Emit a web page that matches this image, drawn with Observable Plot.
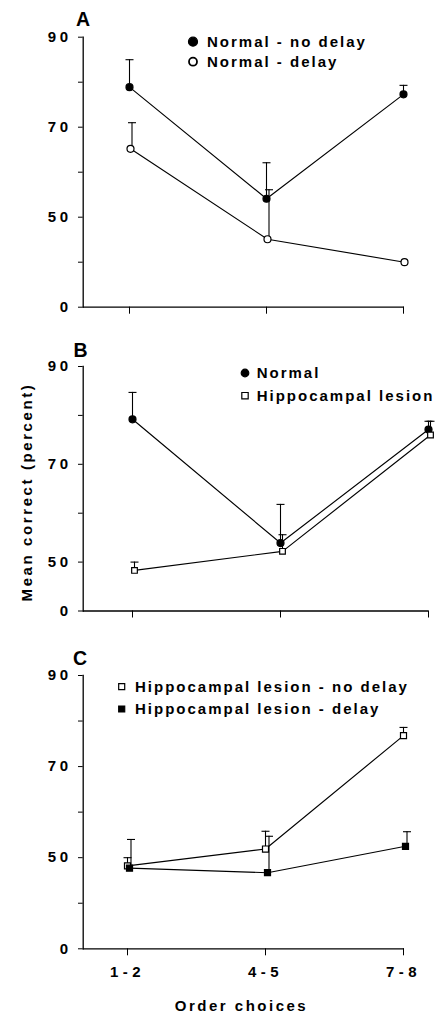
<!DOCTYPE html>
<html>
<head>
<meta charset="utf-8">
<script src="https://cdn.jsdelivr.net/npm/d3@7"></script>
<script src="https://cdn.jsdelivr.net/npm/@observablehq/plot@0.6"></script>
<style>
  body { margin: 0; background: #fff; }
  #wrap { position: relative; width: 438px; height: 1012px; overflow: hidden; background: #fff;
          font-family: "Liberation Sans", Arial, Helvetica, sans-serif; color: #000; }
  .panel { position: absolute; left: 0; }
  #overlay { position: absolute; left: 0; top: 0; pointer-events: none; }
</style>
</head>
<body>
<div id="wrap"></div>
<script>
// ---------------- data ----------------
const categories = ["1-2", "4-5", "7-8"];

// Panel A
const normalNoDelayA = [78.9, 54.1, 77.3];
const normalNoDelayErrA = [6.1, 8.0, 2.0];
const normalDelayA = [65.2, 45.1, 40.0];
const normalDelayErrA = [5.8, 11.0, 0];

// Panel B
const normalB = [79.2, 53.9, 77.1];
const normalErrB = [5.5, 7.9, 1.7];
const hippoB = [48.3, 52.2, 76.0];
const hippoErrB = [1.7, 3.4, 2.8];

// Panel C
const hippoNoDelayC = [48.2, 51.9, 76.8];
const hippoNoDelayErrC = [1.8, 3.9, 1.8];
const hippoDelayC = [47.7, 46.7, 52.5];
const hippoDelayErrC = [6.3, 8.0, 3.2];

const yTicksAC = [0, 40, 50, 60, 70, 80, 90];
const yTicksB = [0, 50, 60, 70, 80, 90];
const yTickLabels = [0, 50, 70, 90];

const legendA = ["Normal - no delay", "Normal - delay"];
const legendB = ["Normal", "Hippocampal lesion"];
const legendC = ["Hippocampal lesion - no delay", "Hippocampal lesion - delay"];
const panelLetters = ["A", "B", "C"];
const yTitle = "Mean correct (percent)";
const xTitle = "Order choices";

// ---------------- helpers ----------------
const FONT = '"Liberation Sans", Arial, Helvetica, sans-serif';
const capSymbol = {
  draw(context, size) {
    const w = Math.sqrt(size / Math.PI);
    context.moveTo(-w, 0);
    context.lineTo(w, 0);
  }
};

function rowsOf(values, errs) {
  return categories.map((c, i) => ({x: c, y: values[i], e: errs[i]}));
}

function makePanel(cfg) {
  const marks = [
    Plot.ruleY([0], {stroke: "black", strokeWidth: 1.3}),
    Plot.frame({anchor: "left", stroke: "black", strokeWidth: 1.3}),
    Plot.axisY({ticks: cfg.yTicks, tickSize: 4.7, tickPadding: 7, label: null,
      tickFormat: d => yTickLabels.includes(d) ? String(d) : ""}),
    Plot.axisX({tickSize: 7, tickPadding: 11, label: null,
      tickFormat: cfg.showXLabels ? (d => d) : (() => "")})
  ];
  for (const s of cfg.series) {
    const rows = rowsOf(s.values, s.errs);
    const withErr = rows.filter(d => d.e > 0);
    marks.push(Plot.line(rows, {x: "x", y: "y", stroke: "black", strokeWidth: 1.15, dx: s.dx}));
    marks.push(Plot.ruleX(withErr, {x: "x", y1: "y", y2: d => d.y + d.e, stroke: "black", strokeWidth: 1.1, dx: s.errDx}));
    marks.push(Plot.dot(withErr, {x: "x", y: d => d.y + d.e, symbol: capSymbol, r: 4, fill: "none", stroke: "black", strokeWidth: 1.1, dx: s.errDx}));
  }
  for (const s of cfg.series) {
    const rows = rowsOf(s.values, s.errs);
    marks.push(Plot.dot(rows, {x: "x", y: "y", symbol: s.symbol, r: s.r, fill: s.fill, stroke: "black", strokeWidth: 1.2, dx: s.dx}));
  }
  const svg = Plot.plot({
    width: 438,
    height: cfg.height,
    marginLeft: 82.7,
    marginRight: cfg.marginRight,
    marginTop: cfg.marginTop,
    marginBottom: cfg.marginBottom,
    style: {fontFamily: FONT, fontSize: "15px", fontWeight: "bold", color: "black", background: "transparent", overflow: "visible"},
    x: {type: "point", domain: categories, range: cfg.xRange, padding: 0, align: 0.5},
    y: {type: "linear", domain: cfg.yDomain, range: cfg.yRange},
    marks
  });
  d3.select(svg).selectAll('g[aria-label="y-axis tick label"] text').style("letter-spacing", "3.5px");
  d3.select(svg).selectAll('g[aria-label="x-axis tick label"] text').style("letter-spacing", "4.5px");
  svg.classList.add("panel");
  svg.style.top = cfg.top + "px";
  return svg;
}

const wrap = document.getElementById("wrap");

// Broken y axis: "0" is drawn one tick-step below the lowest real tick.
wrap.appendChild(makePanel({
  top: 0, height: 330, marginTop: 36.7, marginBottom: 23.3, marginRight: 34,
  xRange: [128.3, 404], yDomain: [0, 35, 90], yRange: [306.7, 284.2, 36.7],
  yTicks: yTicksAC, showXLabels: false,
  series: [
    {values: normalNoDelayA, errs: normalNoDelayErrA, symbol: "circle", r: 3.5, fill: "black", dx: 0, errDx: 0},
    {values: normalDelayA, errs: normalDelayErrA, symbol: "circle", r: 3.5, fill: "white", dx: 1, errDx: 2.5}
  ]
}));

wrap.appendChild(makePanel({
  top: 330, height: 320, marginTop: 36, marginBottom: 39.5, marginRight: 9.7,
  xRange: [131.7, 428.3], yDomain: [0, 45, 90], yRange: [280.5, 256.05, 36],
  yTicks: yTicksB, showXLabels: false,
  series: [
    {values: normalB, errs: normalErrB, symbol: "circle", r: 3.5, fill: "black", dx: 0, errDx: 0},
    {values: hippoB, errs: hippoErrB, symbol: "square", r: 3.2, fill: "white", dx: 2, errDx: 2}
  ]
}));

wrap.appendChild(makePanel({
  top: 650, height: 362, marginTop: 25, marginBottom: 63.7, marginRight: 34,
  xRange: [126.7, 404], yDomain: [0, 35, 90], yRange: [298.3, 275.5, 25],
  yTicks: yTicksAC, showXLabels: true,
  series: [
    {values: hippoNoDelayC, errs: hippoNoDelayErrC, symbol: "square", r: 3.4, fill: "white", dx: 0, errDx: 0},
    {values: hippoDelayC, errs: hippoDelayErrC, symbol: "square", r: 3.4, fill: "black", dx: 2, errDx: 3.5}
  ]
}));

// ---------------- overlay texts & legends ----------------
const ov = d3.select(wrap).append("svg").attr("id", "overlay")
  .attr("width", 438).attr("height", 1012)
  .style("font-family", FONT).style("font-weight", "bold");

const letterPos = [[76, 26], [73.5, 356.7], [73, 664.5]];
panelLetters.forEach((t, i) => {
  ov.append("text").attr("x", letterPos[i][0]).attr("y", letterPos[i][1])
    .attr("font-size", 19.5).attr("font-weight", "bold").text(t);
});

const symPath = (type, r) => d3.symbol(type === "circle" ? d3.symbolCircle : d3.symbolSquare, Math.PI * r * r)();
function legend(labels, syms, sx, tx, baselines) {
  labels.forEach((lab, i) => {
    const b = baselines[i];
    ov.append("path").attr("d", symPath(syms[i].type, syms[i].r))
      .attr("transform", `translate(${sx},${b - 5})`)
      .attr("fill", syms[i].fill).attr("stroke", "black").attr("stroke-width", syms[i].sw);
    ov.append("text").attr("x", tx).attr("y", b)
      .attr("font-size", 15).style("letter-spacing", "2px").text(lab);
  });
}
legend(legendA, [{type: "circle", r: 4.5, fill: "black", sw: 1.2}, {type: "circle", r: 4.0, fill: "white", sw: 1.8}], 193, 207, [46.7, 66.7]);
legend(legendB, [{type: "circle", r: 3.8, fill: "black", sw: 1.2}, {type: "square", r: 3.6, fill: "white", sw: 1.2}], 245, 256.7, [378, 400.7]);
legend(legendC, [{type: "square", r: 3.4, fill: "white", sw: 1.2}, {type: "square", r: 3.4, fill: "black", sw: 1.2}], 121.7, 135, [691.7, 714]);

ov.append("text").attr("transform", "translate(32.3,492) rotate(-90)")
  .attr("text-anchor", "middle").attr("font-size", 15).style("letter-spacing", "2.6px").text(yTitle);
ov.append("text").attr("x", 241.5).attr("y", 1010.5)
  .attr("text-anchor", "middle").attr("font-size", 15).style("letter-spacing", "2.5px").text(xTitle);
</script>
</body>
</html>
